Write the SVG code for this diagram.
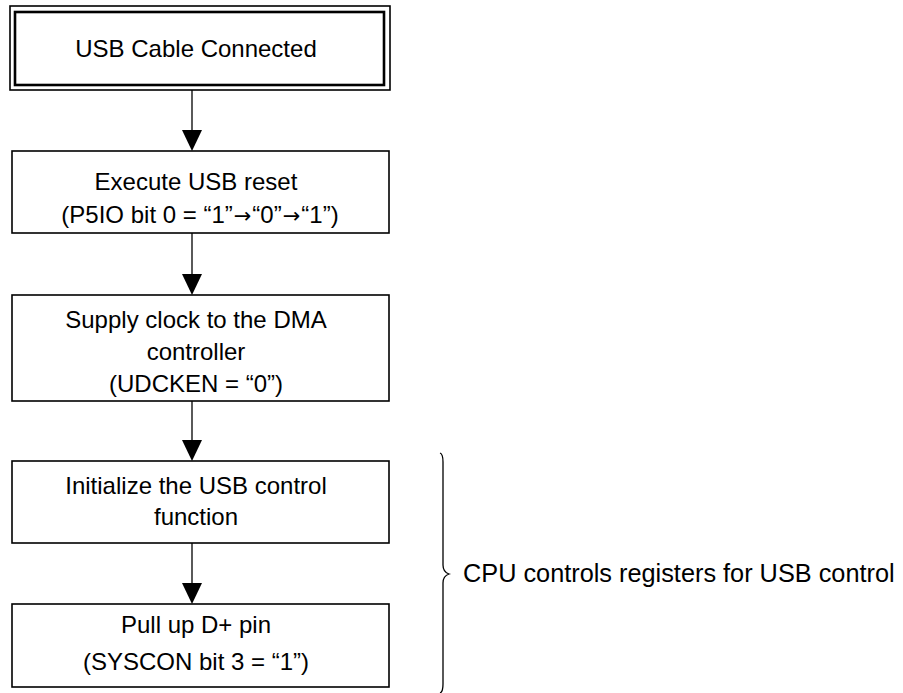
<svg xmlns="http://www.w3.org/2000/svg" width="903" height="693" viewBox="0 0 903 693">
<style>
.box{fill:#fff;stroke:#000;stroke-width:1.6}
.t{font-family:"Liberation Sans",Arial,sans-serif;font-size:24px;fill:#000;text-anchor:middle}
.ar{font-family:"DejaVu Sans",sans-serif;font-size:21px}
.c{stroke:#000;stroke-width:1.3;fill:none}
.ah{fill:#000}
</style>
<rect width="903" height="693" fill="#fff"/>
<g id="n1">
<rect x="10" y="6" width="380" height="84" fill="#fff" stroke="#000" stroke-width="1.6"/>
<rect x="15" y="12" width="369" height="73" fill="none" stroke="#000" stroke-width="2.6"/>
<text class="t" x="196" y="57">USB Cable Connected</text>
</g>
<g id="n2">
<rect class="box" x="12" y="151" width="377" height="82"/>
<text class="t" x="196" y="190">Execute USB reset</text>
<text class="t" x="200" y="223">(P5IO bit 0 = “1”<tspan class="ar" dx="1">→</tspan><tspan dx="1">“0”</tspan><tspan class="ar" dx="1">→</tspan><tspan dx="1">“1”)</tspan></text>
</g>
<g id="n3">
<rect class="box" x="12" y="295" width="377" height="106"/>
<text class="t" x="196" y="328">Supply clock to the DMA</text>
<text class="t" x="196" y="360">controller</text>
<text class="t" x="196" y="392">(UDCKEN = “0”)</text>
</g>
<g id="n4">
<rect class="box" x="12" y="461" width="377" height="82"/>
<text class="t" x="196" y="494">Initialize the USB control</text>
<text class="t" x="196" y="525">function</text>
</g>
<g id="n5">
<rect class="box" x="12" y="604" width="377" height="83"/>
<text class="t" x="196" y="633">Pull up D+ pin</text>
<text class="t" x="196" y="670">(SYSCON bit 3 = “1”)</text>
</g>
<g id="connectors">
<line class="c" x1="192" y1="90" x2="192" y2="131"/>
<polygon class="ah" points="182,130 202,130 192,151"/>
<line class="c" x1="192" y1="233" x2="192" y2="275"/>
<polygon class="ah" points="182,274 202,274 192,295"/>
<line class="c" x1="192" y1="401" x2="192" y2="441"/>
<polygon class="ah" points="182,440 202,440 192,461"/>
<line class="c" x1="192" y1="543" x2="192" y2="584"/>
<polygon class="ah" points="182,583 202,583 192,604"/>
</g>
<g id="brace">
<path d="M440,453 Q443,454 443,462 L443,565 Q443,572 449,574 Q443,576 443,583 L443,684 Q443,692 440,693" fill="none" stroke="#000" stroke-width="1.3"/>
</g>
<text x="463" y="582" font-family="Liberation Sans, Arial, sans-serif" font-size="25.3" fill="#000">CPU controls registers for USB control</text>
</svg>
